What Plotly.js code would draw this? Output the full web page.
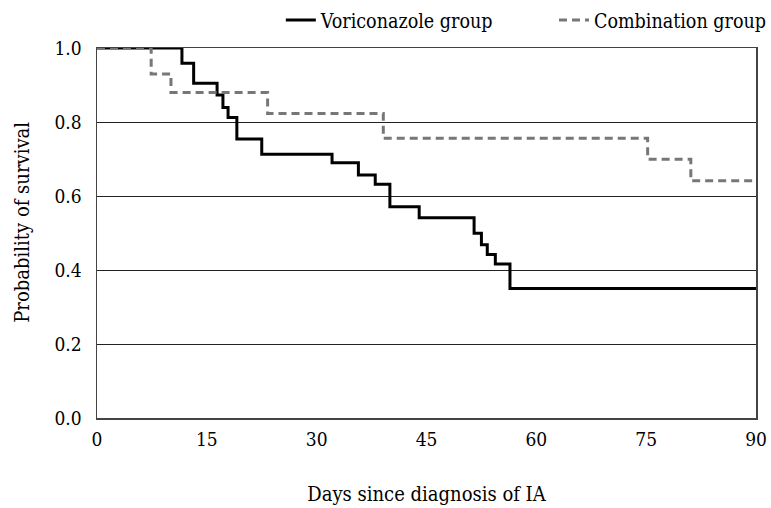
<!DOCTYPE html>
<html>
<head>
<meta charset="utf-8">
<script src="https://cdn.plot.ly/plotly-3.0.1.min.js"></script>
<style>html,body{margin:0;padding:0;background:#fff;}#chart{width:771px;height:508px;}</style>
</head>
<body>
<div id="chart"></div>
<script>
var vorDays = [0, 11.6, 13.2, 16.4, 17.2, 17.9, 19.1, 22.5, 32.1, 35.7, 38.0, 40.0, 44.0, 51.5, 52.5, 53.3, 54.4, 56.4, 90];
var vorSurv = [1.0, 0.959, 0.905, 0.873, 0.839, 0.812, 0.754, 0.713, 0.690, 0.657, 0.632, 0.571, 0.541, 0.499, 0.468, 0.442, 0.416, 0.350, 0.350];
var comDays = [0, 7.4, 10.1, 23.3, 39.1, 75.2, 81.1, 90];
var comSurv = [1.0, 0.930, 0.880, 0.823, 0.756, 0.699, 0.641, 0.641];
var xTicks = [0, 15, 30, 45, 60, 75, 90];
var yTicks = [0.0, 0.2, 0.4, 0.6, 0.8, 1.0];
var yTickText = ['0.0', '0.2', '0.4', '0.6', '0.8', '1.0'];

var fam = 'DejaVu Serif Condensed, DejaVu Serif, serif';
var tickFont = {family: fam, size: 19, color: '#000'};
var titleFont = {family: fam, size: 20, color: '#000'};
var legendFont = {family: fam, size: 19.5, color: '#000'};

var traces = [
  {x: vorDays, y: vorSurv, mode: 'lines', name: 'Voriconazole group', legend: 'legend',
   line: {shape: 'hv', color: '#000', width: 3}},
  {x: comDays, y: comSurv, mode: 'lines', name: 'Combination group', legend: 'legend2',
   line: {shape: 'hv', color: '#777', width: 3, dash: '8px,5px'}}
];

var layout = {
  width: 771, height: 508,
  margin: {l: 97, r: 15, t: 48, b: 90, autoexpand: false},
  paper_bgcolor: '#fff', plot_bgcolor: '#fff',
  font: titleFont,
  showlegend: true,
  legend: {orientation: 'h', xref: 'container', yref: 'container',
           x: 0.647, xanchor: 'right', y: 0.96, yanchor: 'middle',
           font: legendFont, itemwidth: 30},
  legend2: {orientation: 'h', xref: 'container', yref: 'container',
           x: 1.0, xanchor: 'right', y: 0.96, yanchor: 'middle',
           font: legendFont, itemwidth: 30},
  xaxis: {range: [0, 90], tickvals: xTicks, ticktext: xTicks.map(String),
          showgrid: false, zeroline: false, showline: true, linecolor: '#444', linewidth: 1.5,
          mirror: true, ticks: '', tickfont: tickFont, ticklabelstandoff: 4,
          title: {text: 'Days since diagnosis of IA', font: titleFont, standoff: 37}},
  yaxis: {range: [0, 1.0], tickvals: yTicks, ticktext: yTickText,
          showgrid: true, gridcolor: '#222', gridwidth: 1, zeroline: false,
          showline: true, linecolor: '#444', linewidth: 1.5, mirror: true, ticks: '',
          tickfont: tickFont, ticklabelstandoff: 10},
  annotations: [{text: 'Probability of survival', textangle: -90, showarrow: false,
                 xref: 'paper', yref: 'paper', x: -0.114, y: 0.53,
                 xanchor: 'center', yanchor: 'middle', font: titleFont}]
};

Plotly.newPlot('chart', traces, layout, {displayModeBar: false, staticPlot: true});
</script>
</body>
</html>
